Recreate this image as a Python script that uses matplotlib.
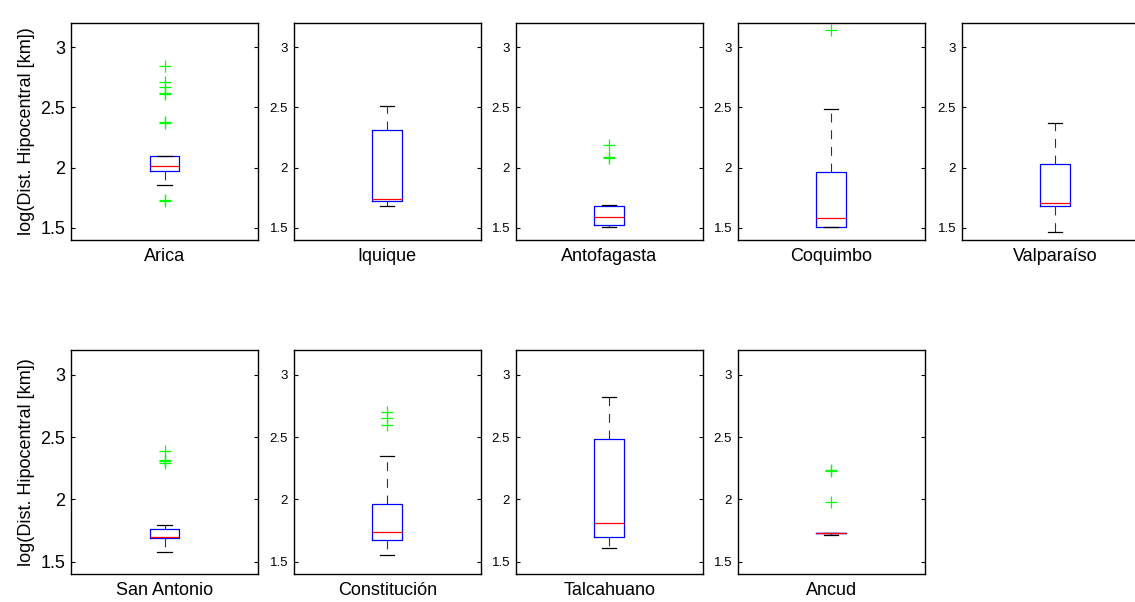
import matplotlib.pyplot as plt

plt.rcParams['font.family'] = ['Liberation Sans', 'DejaVu Sans']

# estaciones y estadisticos de log(distancia hipocentral)
estaciones = ['Arica', 'Iquique', 'Antofagasta', 'Coquimbo', 'Valparaíso',
              'San Antonio', 'Constitución', 'Talcahuano', 'Ancud']
q1 = [1.974, 1.726, 1.528, 1.511, 1.682, 1.690, 1.674, 1.698, 1.726]
mediana = [2.016, 1.743, 1.594, 1.586, 1.710, 1.695, 1.738, 1.811, 1.728]
q3 = [2.093, 2.313, 1.682, 1.963, 2.030, 1.762, 1.963, 2.486, 1.732]
bigote_inf = [1.853, 1.685, 1.511, 1.506, 1.470, 1.578, 1.553, 1.610, 1.717]
bigote_sup = [2.093, 2.512, 1.690, 2.487, 2.369, 1.795, 2.349, 2.823, 1.732]
atipicos = [
    [2.846, 2.713, 2.672, 2.612, 2.622, 2.370, 2.378, 1.725, 1.733],
    [],
    [2.187, 2.078, 2.086],
    [3.138],
    [],
    [2.389, 2.308, 2.316, 2.293],
    [2.705, 2.654, 2.598],
    [],
    [2.227, 2.235, 1.977],
]

fig = plt.figure(figsize=(11.35, 6.02), dpi=100)
W, H = 1135, 602
lefts = [71, 293.7, 515.7, 737.7, 961.7]
ancho = 187

for i, nombre in enumerate(estaciones):
    fila, col = divmod(i, 5)
    if fila == 0:
        top, bot = 23, 240
    else:
        top, bot = 350, 574
    ax = fig.add_axes([lefts[col] / W, 1 - bot / H, ancho / W, (bot - top) / H])

    stats = [dict(med=mediana[i], q1=q1[i], q3=q3[i],
                  whislo=bigote_inf[i], whishi=bigote_sup[i],
                  fliers=atipicos[i])]
    ax.bxp(stats, positions=[1], widths=0.16, capwidths=0.075,
           boxprops=dict(color='#0000ff', linewidth=0.9),
           medianprops=dict(color='#ff0000', linewidth=0.9),
           whiskerprops=dict(color='#333333', linewidth=0.8,
                             linestyle=(0, (8, 7))),
           capprops=dict(color='black', linewidth=0.9),
           flierprops=dict(marker='+', markeredgecolor='#00ff00',
                           markersize=8, markeredgewidth=0.9))

    ax.set_xlim(0.5, 1.5)
    ax.set_ylim(1.4, 3.2)
    ax.set_yticks([1.5, 2, 2.5, 3])
    ax.set_yticklabels(['1.5', '2', '2.5', '3'])
    ax.set_xticks([1])
    ax.set_xticklabels([nombre], fontsize=13)
    ax.tick_params(axis='x', length=0, pad=6)
    ax.tick_params(axis='y', direction='in', length=3, width=0.8,
                   right=True, pad=4)
    for s in ax.spines.values():
        s.set_linewidth(1.0)

    if col == 0:
        ax.tick_params(axis='y', labelsize=13)
        ax.set_ylabel('log(Dist. Hipocentral [km])', fontsize=13, labelpad=4)
    else:
        ax.tick_params(axis='y', labelsize=9.5)

fig.savefig('out.png', dpi=100)
